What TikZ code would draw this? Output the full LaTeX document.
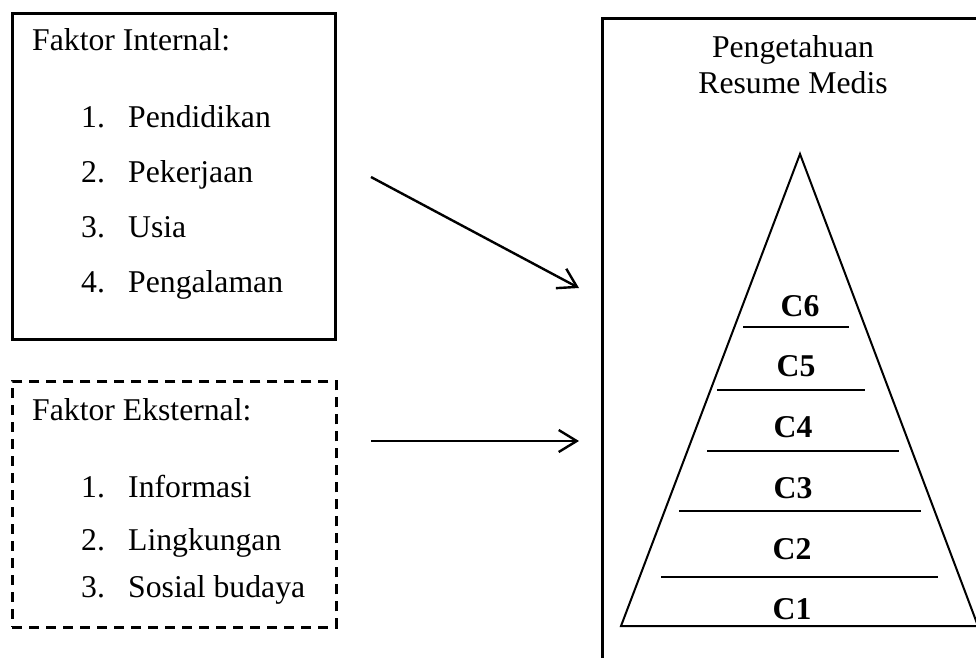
\documentclass[tikz,border=0pt]{standalone}
\usepackage{fontspec}
\setmainfont{Liberation Serif}
\usetikzlibrary{arrows.meta}
\begin{document}
\begin{tikzpicture}[x=1pt,y=-1pt,
  txt/.style={inner sep=0pt, font=\fontsize{31.7}{38}\selectfont},
  lbl/.style={inner sep=0pt, font=\fontsize{31.7}{38}\selectfont\bfseries, anchor=base},
  frame/.style={draw, line width=2.6pt, inner sep=0pt, anchor=north west},
  dashframe/.style={frame, dash pattern=on 10pt off 7pt},
  level/.style={line width=1.4pt},
  pyr/.style={line width=2pt, line join=miter},
  conn/.style={line width=2.4pt, -{Straight Barb[length=18pt,width=22pt,line width=2.4pt]}}]
\useasboundingbox (0,0) rectangle (976,657);
\clip (0,0) rectangle (976,657);
% boxes
\node[frame, minimum width=323pt, minimum height=326pt] (internal) at (11,12) {};
\node[dashframe, minimum width=324pt, minimum height=246pt] (external) at (11,380) {};
\node[frame, minimum width=400pt, minimum height=700pt] (knowledge) at (601,17) {};
% internal texts
\node[txt, anchor=base west] (intitle) at (32,50) {Faktor Internal:};
\node[txt, anchor=base west] (in1n) at (81,127) {1.};
\node[txt, anchor=base west] (in1) at (128,127) {Pendidikan};
\node[txt, anchor=base west] (in2n) at (81,182) {2.};
\node[txt, anchor=base west] (in2) at (128,182) {Pekerjaan};
\node[txt, anchor=base west] (in3n) at (81,237) {3.};
\node[txt, anchor=base west] (in3) at (128,237) {Usia};
\node[txt, anchor=base west] (in4n) at (81,292) {4.};
\node[txt, anchor=base west] (in4) at (128,292) {Pengalaman};
% external texts
\node[txt, anchor=base west] (extitle) at (32,420) {Faktor Eksternal:};
\node[txt, anchor=base west] (ex1n) at (81,497) {1.};
\node[txt, anchor=base west] (ex1) at (128,497) {Informasi};
\node[txt, anchor=base west] (ex2n) at (81,550) {2.};
\node[txt, anchor=base west] (ex2) at (128,550) {Lingkungan};
\node[txt, anchor=base west] (ex3n) at (81,597) {3.};
\node[txt, anchor=base west] (ex3) at (128,597) {Sosial budaya};
% right title
\node[txt, anchor=base] (ktitle1) at (793,57) {Pengetahuan};
\node[txt, anchor=base] (ktitle2) at (793,93) {Resume Medis};
% pyramid
\coordinate (apex) at (800,154);
\coordinate (bl) at (621,626);
\coordinate (br) at (978,626);
\draw[pyr] (bl) -- (apex) -- (br) -- cycle;
\coordinate (l6a) at (743,327); \coordinate (l6b) at (849,327);
\coordinate (l5a) at (717,390); \coordinate (l5b) at (865,390);
\coordinate (l4a) at (707,451); \coordinate (l4b) at (899,451);
\coordinate (l3a) at (679,511); \coordinate (l3b) at (921,511);
\coordinate (l2a) at (661,577); \coordinate (l2b) at (938,577);
\draw[level] (l6a) -- (l6b);
\draw[level] (l5a) -- (l5b);
\draw[level] (l4a) -- (l4b);
\draw[level] (l3a) -- (l3b);
\draw[level] (l2a) -- (l2b);
\node[lbl] (c6) at (800,316) {C6};
\node[lbl] (c5) at (796,376) {C5};
\node[lbl] (c4) at (793,437) {C4};
\node[lbl] (c3) at (793,498) {C3};
\node[lbl] (c2) at (792,559) {C2};
\node[lbl] (c1) at (792,619) {C1};
% arrows
\coordinate (a1s) at (371,177);
\coordinate (a1e) at (579,288);
\coordinate (a2s) at (371,441);
\coordinate (a2e) at (579,441);
\draw[conn] (a1s) -- (a1e);
\draw[conn] (a2s) -- (a2e);
\end{tikzpicture}
\end{document}
